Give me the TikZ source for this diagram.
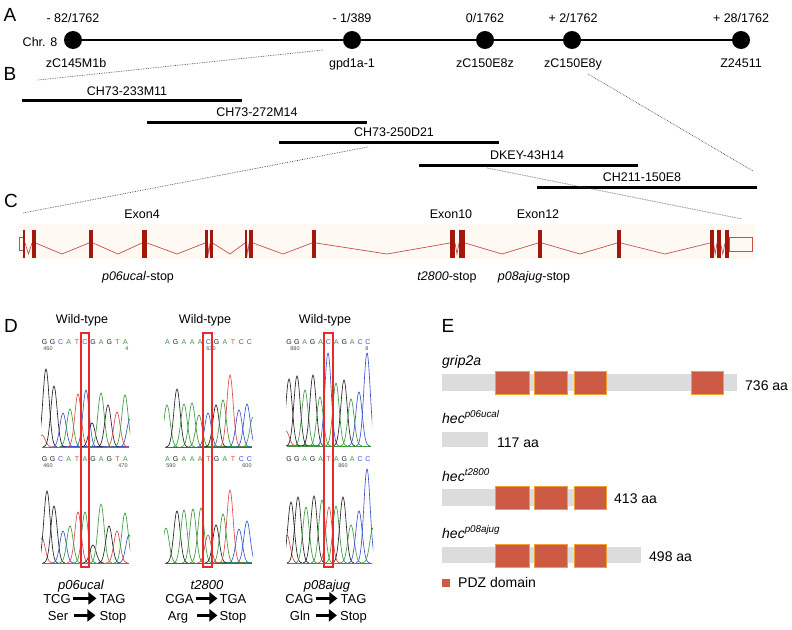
\documentclass[tikz,border=0pt]{standalone}
\usepackage{fontspec}
\setmainfont{Liberation Sans}
\usetikzlibrary{arrows.meta}
\definecolor{cG}{HTML}{222222}
\definecolor{cA}{HTML}{3C9A3C}
\definecolor{cC}{HTML}{3A55D0}
\definecolor{cT}{HTML}{E04848}
\definecolor{exonred}{HTML}{A3170D}
\definecolor{intronred}{HTML}{C9504A}
\definecolor{bandbg}{HTML}{FEF9F3}
\definecolor{pdzfill}{HTML}{CC5A45}
\definecolor{pdzedge}{HTML}{F2A032}
\definecolor{barfill}{HTML}{DCDCDC}
\definecolor{boxred}{HTML}{E82A2A}
\begin{document}
\begin{tikzpicture}[x=1pt,y=-1pt,
  lbl/.style={font=\fontsize{12.5}{14}\selectfont, inner sep=0pt, anchor=base},
  elbl/.style={font=\fontsize{14}{16}\selectfont, inner sep=0pt, anchor=base west},
  panel/.style={font=\fontsize{19}{21}\selectfont, inner sep=0pt, anchor=base},
  mdot/.style={circle, fill=black, minimum size=18pt, inner sep=0pt},
  chrline/.style={line width=2.6pt},
  bac/.style={line width=3pt},
  zoomline/.style={densely dotted, line width=0.7pt, black!70},
  exon/.style={fill=exonred, draw=none},
  intron/.style={draw=intronred, line width=0.7pt},
  utr/.style={draw=intronred, line width=0.8pt, fill=none},
  trace/.style={line width=0.65pt},
  seqch/.style={font=\fontsize{7}{8}\selectfont, inner sep=0pt, anchor=base},
  seqnum/.style={font=\fontsize{5.5}{6}\selectfont, inner sep=0pt, anchor=base, text=black!70},
  redbox/.style={draw=boxred, line width=1.2pt},
  bigarrow/.style={line width=2.8pt, -{Triangle[length=8pt,width=12pt]}},
  pdz/.style={fill=pdzfill, draw=pdzedge, line width=0.8pt},
  pbar/.style={fill=barfill, draw=none}
]
\useasboundingbox (0,0) rectangle (792,629);
\fill[white] (0,0) rectangle (792,629);

% ---------------- Panel A ----------------
\node[panel] (pA) at (10,21) {A};
\node[mdot] (m1) at (73,40) {};
\node[mdot] (m2) at (352,40) {};
\node[mdot] (m3) at (485,40) {};
\node[mdot] (m4) at (572,40) {};
\node[mdot] (m5) at (741,40) {};
\draw[chrline] (m1) -- (m2) -- (m3) -- (m4) -- (m5);
\node[lbl] (t1) at (73,23) {- 82/1762};
\node[lbl] (t2) at (352,23) {- 1/389};
\node[lbl] (t3) at (485,23) {0/1762};
\node[lbl] (t4) at (573,23) {+ 2/1762};
\node[lbl] (t5) at (741,23) {+ 28/1762};
\node[lbl] (b1) at (76,67) {zC145M1b};
\node[lbl] (b2) at (352,67) {gpd1a-1};
\node[lbl] (b3) at (485,67) {zC150E8z};
\node[lbl] (b4) at (573,67) {zC150E8y};
\node[lbl] (b5) at (741,67) {Z24511};
\node[lbl] (chr) at (40,46.5) {Chr. 8};

\coordinate (zA1) at (323,50);
\coordinate (zA2) at (38,80);
\coordinate (zA3) at (588,74);
\coordinate (zA4) at (753,171);
\draw[zoomline] (zA1) -- (zA2);
\draw[zoomline] (zA3) -- (zA4);

% ---------------- Panel B ----------------
\node[panel] (pB) at (10,80) {B};
\coordinate (c1a) at (22,100);  \coordinate (c1b) at (242,100);
\coordinate (c2a) at (147,122); \coordinate (c2b) at (367,122);
\coordinate (c3a) at (279,142); \coordinate (c3b) at (499,142);
\coordinate (c4a) at (419,165); \coordinate (c4b) at (638,165);
\coordinate (c5a) at (537,187); \coordinate (c5b) at (757,187);
\draw[bac] (c1a) -- (c1b);
\draw[bac] (c2a) -- (c2b);
\draw[bac] (c3a) -- (c3b);
\draw[bac] (c4a) -- (c4b);
\draw[bac] (c5a) -- (c5b);
\node[lbl] (c1) at (127,95) {CH73-233M11};
\node[lbl] (c2) at (257,116.5) {CH73-272M14};
\node[lbl] (c3) at (394,136.5) {CH73-250D21};
\node[lbl] (c4) at (527,159.5) {DKEY-43H14};
\node[lbl] (c5) at (642,181.5) {CH211-150E8};

\coordinate (zB1) at (368,147);
\coordinate (zB2) at (23,213);
\coordinate (zB3) at (487,168);
\coordinate (zB4) at (742,219);
\draw[zoomline] (zB1) -- (zB2);
\draw[zoomline] (zB3) -- (zB4);

% ---------------- Panel C ----------------
\node[panel] (pC) at (11,207) {C};
\fill[bandbg] (18,224) rectangle (755,259);
\foreach \a/\v/\b in {25/28.5/32, 35.5/62/89, 93/118/142, 147/177/205, 207.5/208.8/210,
  212.5/230/245, 246.5/247.8/249, 253/283/312, 316/387/450, 455/457/459,
  465/502/538, 542/580/617, 621/665/710, 713.5/715.2/717, 720.5/722.8/725}
  { \draw[intron] (\a,243) -- (\v,254) -- (\b,243); }
\draw[utr] (19.5,237) rectangle (23,250);
\foreach \a/\b in {23/25, 32/35.5, 89/93, 142/147, 205/207.5, 210/212.5, 245/246.5,
  249/253, 312/316, 450/455, 459/465, 538/542, 617/621, 710/713.5, 717/720.5, 725/729}
  { \fill[exon] (\a,230) rectangle (\b,258); }
\draw[utr] (729,237) rectangle (752,251);
\node[lbl] (ex4) at (142,218) {Exon4};
\node[lbl] (ex10) at (451,218) {Exon10};
\node[lbl] (ex12) at (538,218) {Exon12};
\node[lbl] (st1) at (138,280) {\textit{p06ucal}-stop};
\node[lbl] (st2) at (447,280) {\textit{t2800}-stop};
\node[lbl] (st3) at (534,280) {\textit{p08ajug}-stop};

% ---------------- Panel D ----------------
\node[panel] (pD) at (11,332) {D};
\node[lbl] (wt1) at (82,323) {Wild-type};
\node[lbl] (wt2) at (205,323) {Wild-type};
\node[lbl] (wt3) at (325,323) {Wild-type};

\foreach \q [count=\i from 0] in {G,G,C,A,T,C,G,A,G,T,A}
  \node[seqch, text=c\q] (s1w\i) at ({44.5+8.1*\i},344) {\q};
\foreach \q [count=\i from 0] in {G,G,C,A,T,A,G,A,G,T,A}
  \node[seqch, text=c\q] (s1m\i) at ({44.5+8.1*\i},461) {\q};
\foreach \q [count=\i from 0] in {A,G,A,A,A,C,G,A,T,C,C}
  \node[seqch, text=c\q] (s2w\i) at ({167.5+8.2*\i},344) {\q};
\foreach \q [count=\i from 0] in {A,G,A,A,A,T,G,A,T,C,C}
  \node[seqch, text=c\q] (s2m\i) at ({167.5+8.2*\i},461) {\q};
\foreach \q [count=\i from 0] in {G,G,A,G,A,C,A,G,A,C,C}
  \node[seqch, text=c\q] (s3w\i) at ({289+7.9*\i},344) {\q};
\foreach \q [count=\i from 0] in {G,G,A,G,A,T,A,G,A,C,C}
  \node[seqch, text=c\q] (s3m\i) at ({289+7.9*\i},461) {\q};
\node[seqnum] (n1a) at (48,350.5) {460};
\node[seqnum] (n1b) at (127,350.5) {4};
\node[seqnum] (n1c) at (48,467.5) {460};
\node[seqnum] (n1d) at (123,467.5) {470};
\node[seqnum] (n2a) at (211,350.5) {630};
\node[seqnum] (n2c) at (171,467.5) {590};
\node[seqnum] (n2d) at (247,467.5) {600};
\node[seqnum] (n3a) at (295,350.5) {880};
\node[seqnum] (n3b) at (367,350.5) {8};
\node[seqnum] (n3c) at (343,467.5) {860};

\def\pw{20}
\def\bl{447}
\begin{scope}
\clip (41,340) rectangle (130,448);
\draw[cT,trace] (42,\bl) -- (129,\bl);
\draw[cC,trace] (60,\bl-0.3) -- (129,\bl-0.3);
\foreach \c/\m/\h in {cT/42/12, cG/46/78, cG/54/61, cC/63/34, cA/70/38, cT/78/53, cC/86/57,
  cG/92/24, cA/101/54, cG/108/42, cT/117/35, cA/125/52, cC/130/28}
  { \pgfmathsetmacro\pa{\m-11}\pgfmathsetmacro\pb{\m+11}
    \draw[\c,trace] plot[domain=\pa:\pb, samples=33, smooth] (\x,{\bl-\h*exp(-(\x-\m)*(\x-\m)/\pw)}); }
\end{scope}
\begin{scope}
\clip (164,340) rectangle (253,448);
\draw[cC,trace] (165,\bl) -- (252,\bl);
\draw[cA,trace] (200,\bl-0.3) -- (252,\bl-0.3);
\foreach \c/\m/\h in {cA/167/42, cG/177/58, cA/184/43, cA/192/44, cA/199/32, cC/208/34, cG/216/42,
  cA/223/47, cT/230/72, cC/239/37, cC/247/43, cA/253/30}
  { \pgfmathsetmacro\pa{\m-11}\pgfmathsetmacro\pb{\m+11}
    \draw[\c,trace] plot[domain=\pa:\pb, samples=33, smooth] (\x,{\bl-\h*exp(-(\x-\m)*(\x-\m)/\pw)}); }
\end{scope}
\def\bl{446}
\begin{scope}
\clip (286,340) rectangle (372,447);
\draw[cA,trace] (287,\bl) -- (371,\bl);
\draw[cT,trace] (287,\bl-0.3) -- (320,\bl-0.3);
\foreach \c/\m/\h in {cT/286/15, cG/289/67, cG/297/70, cA/305/56, cG/313/71, cA/320/49, cC/328/93,
  cA/336/63, cG/344/66, cA/351/47, cC/359/54, cC/367/93}
  { \pgfmathsetmacro\pa{\m-11}\pgfmathsetmacro\pb{\m+11}
    \draw[\c,trace] plot[domain=\pa:\pb, samples=33, smooth] (\x,{\bl-\h*exp(-(\x-\m)*(\x-\m)/\pw)}); }
\end{scope}
\def\bl{563}
\begin{scope}
\clip (41,470) rectangle (130,564);
\draw[cT,trace] (42,\bl) -- (129,\bl);
\foreach \c/\m/\h in {cT/42/25, cG/47/72, cG/54/57, cC/63/32, cA/70/37, cT/78/51, cA/85/51,
  cG/93/18, cA/101/59, cG/109/37, cT/117/32, cA/125/50, cC/129/28}
  { \pgfmathsetmacro\pa{\m-11}\pgfmathsetmacro\pb{\m+11}
    \draw[\c,trace] plot[domain=\pa:\pb, samples=33, smooth] (\x,{\bl-\h*exp(-(\x-\m)*(\x-\m)/\pw)}); }
\end{scope}
\begin{scope}
\clip (164,470) rectangle (253,564);
\draw[cC,trace] (165,\bl) -- (252,\bl);
\draw[cA,trace] (215,\bl-0.3) -- (252,\bl-0.3);
\foreach \c/\m/\h in {cA/166/35, cG/177/52, cA/184/53, cA/193/54, cA/201/55, cT/208/28, cG/216/38,
  cA/223/49, cT/230/73, cC/239/34, cC/247/42}
  { \pgfmathsetmacro\pa{\m-11}\pgfmathsetmacro\pb{\m+11}
    \draw[\c,trace] plot[domain=\pa:\pb, samples=33, smooth] (\x,{\bl-\h*exp(-(\x-\m)*(\x-\m)/\pw)}); }
\end{scope}
\begin{scope}
\clip (286,465) rectangle (373,564);
\draw[cA,trace] (287,\bl) -- (372,\bl);
\foreach \c/\m/\h in {cT/287/28, cG/291/61, cG/298/66, cA/306/56, cG/314/67, cA/322/63, cT/329/56,
  cA/336/57, cG/343/66, cA/351/38, cC/359/52, cC/367/94, cA/373/35}
  { \pgfmathsetmacro\pa{\m-11}\pgfmathsetmacro\pb{\m+11}
    \draw[\c,trace] plot[domain=\pa:\pb, samples=33, smooth] (\x,{\bl-\h*exp(-(\x-\m)*(\x-\m)/\pw)}); }
\end{scope}

% red boxes
\draw[redbox] (81,333) rectangle (89,567);
\draw[redbox] (203,333) rectangle (212,567);
\draw[redbox] (324,333) rectangle (333,567);

% mutation labels
\node[lbl, font=\fontsize{13}{15}\selectfont\itshape] (mu1) at (81,589) {p06ucal};
\node[lbl, font=\fontsize{13}{15}\selectfont\itshape] (mu2) at (207,589) {t2800};
\node[lbl, font=\fontsize{13}{15}\selectfont\itshape] (mu3) at (327,589) {p08ajug};
\begin{scope}[every node/.style={lbl, font=\fontsize{13}{15}\selectfont}]
\node (k1a) at (57,603) {TCG};
\node (k1b) at (112.5,603) {TAG};
\node (a1a) at (58,620) {Ser};
\node (a1b) at (113,620) {Stop};
\node (k2a) at (179.5,603) {CGA};
\node (k2b) at (233,603) {TGA};
\node (a2a) at (178,620) {Arg};
\node (a2b) at (233,620) {Stop};
\node (k3a) at (299.5,603) {CAG};
\node (k3b) at (353.5,603) {TAG};
\node (a3a) at (300,620) {Gln};
\node (a3b) at (353.5,620) {Stop};
\end{scope}
\draw[bigarrow, shorten <=2pt, shorten >=3pt] ([yshift=4.6pt]k1a.base east) -- ([yshift=4.6pt]k1b.base west);
\draw[bigarrow, shorten <=6pt, shorten >=4pt] ([yshift=4.6pt]a1a.base east) -- ([yshift=4.6pt]a1b.base west);
\draw[bigarrow, shorten <=2pt, shorten >=2pt] ([yshift=4.6pt]k2a.base east) -- ([yshift=4.6pt]k2b.base west);
\draw[bigarrow, shorten <=9pt, shorten >=2pt] ([yshift=4.6pt]a2a.base east) -- ([yshift=4.6pt]a2b.base west);
\draw[bigarrow, shorten <=2pt, shorten >=3pt] ([yshift=4.6pt]k3a.base east) -- ([yshift=4.6pt]k3b.base west);
\draw[bigarrow, shorten <=6pt, shorten >=3pt] ([yshift=4.6pt]a3a.base east) -- ([yshift=4.6pt]a3b.base west);

% ---------------- Panel E ----------------
\node[panel] (pE) at (448,332) {E};
\node[elbl] (g1) at (442,365) {\textit{grip2a}};
\fill[pbar] (442,374) rectangle (737,391);
\foreach \a/\b in {495/529, 534/567, 574/606, 691/723} { \draw[pdz] (\a,371) rectangle (\b,394); }
\node[elbl] (l1) at (745,390) {736 aa};

\node[elbl] (g2) at (442,423) {\textit{hec}\textsuperscript{\textit{p06ucal}}};
\fill[pbar] (442,432) rectangle (488,447);
\node[elbl] (l2) at (497,447) {117 aa};

\node[elbl] (g3) at (442,481) {\textit{hec}\textsuperscript{\textit{t2800}}};
\fill[pbar] (442,489) rectangle (606,506);
\foreach \a/\b in {495/529, 534/567, 574/606} { \draw[pdz] (\a,486) rectangle (\b,509); }
\node[elbl] (l3) at (614,503) {413 aa};

\node[elbl] (g4) at (442,538) {\textit{hec}\textsuperscript{\textit{p08ajug}}};
\fill[pbar] (442,547) rectangle (641,563);
\foreach \a/\b in {495/529, 534/567, 574/606} { \draw[pdz] (\a,544) rectangle (\b,567); }
\node[elbl] (l4) at (649,561) {498 aa};

\fill[pdzfill] (442,579) rectangle (450,587);
\node[elbl] (leg) at (458,587) {PDZ domain};
\end{tikzpicture}
\end{document}
